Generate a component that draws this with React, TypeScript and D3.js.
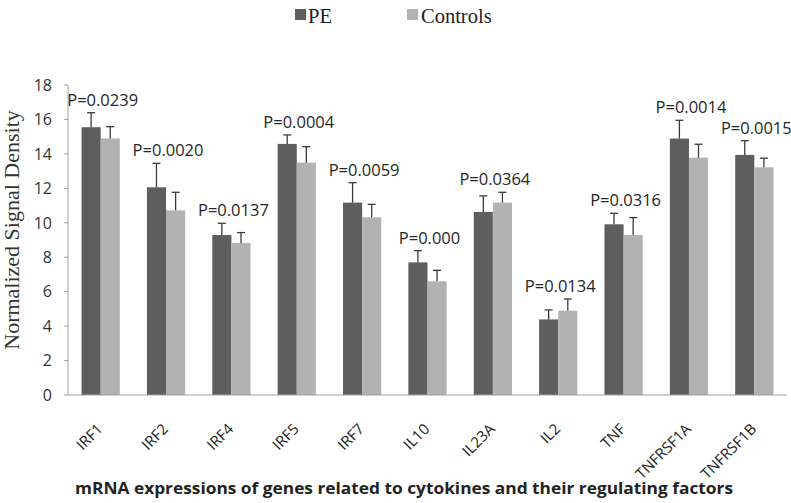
import React from "react";
import * as d3 from "d3";

const categories = ["IRF1", "IRF2", "IRF4", "IRF5", "IRF7", "IL10", "IL23A", "IL2", "TNF", "TNFRSF1A", "TNFRSF1B"];
const seriesNames = ["PE", "Controls"];
const peValues = [15.55, 12.06, 9.29, 14.58, 11.17, 7.7, 10.63, 4.39, 9.91, 14.89, 13.94];
const peErrors = [0.84, 1.39, 0.68, 0.52, 1.16, 0.68, 0.93, 0.55, 0.64, 1.06, 0.83];
const ctrlValues = [14.9, 10.72, 8.83, 13.49, 10.32, 6.6, 11.17, 4.9, 9.29, 13.78, 13.22];
const ctrlErrors = [0.68, 1.05, 0.6, 0.93, 0.75, 0.64, 0.6, 0.67, 1.01, 0.78, 0.53];
const pLabels = ["P=0.0239", "P=0.0020", "P=0.0137", "P=0.0004", "P=0.0059", "P=0.000", "P=0.0364", "P=0.0134", "P=0.0316", "P=0.0014", "P=0.0015"];
const yTicks = [0, 2, 4, 6, 8, 10, 12, 14, 16, 18];
const yTitle = "Normalized Signal Density";
const xTitle = "mRNA expressions of genes related to cytokines and their regulating factors";

const W = 791;
const H = 503;
const colors = ["#5e5e5e", "#b2b2b2"];

export default function App() {
  const left = 68;
  const right = 787;
  const top = 85;
  const bottom = 395;

  const x0 = d3.scaleBand<string>().domain(categories).range([left, right]).paddingInner(0.415).paddingOuter(0.2075);
  const x1 = d3.scaleBand<string>().domain(seriesNames).range([0, x0.bandwidth()]);
  const y = d3.scaleLinear().domain([0, 18]).range([bottom, top]);

  const series = [
    { name: "PE", values: peValues, errs: peErrors },
    { name: "Controls", values: ctrlValues, errs: ctrlErrors },
  ];

  const sans = "'Open Sans', sans-serif";
  const serif = "'Liberation Serif', 'Times New Roman', serif";

  return (
    <svg width={W} height={H} style={{ position: "absolute", left: 0, top: 0, background: "#fff" }}>
      {/* Legend */}
      <g>
        <rect x={295} y={9} width={11} height={11} fill={colors[0]} />
        <text x={308} y={23} fontFamily={serif} fontSize={20.5} fill="#222">PE</text>
        <rect x={407} y={9} width={11} height={11} fill={colors[1]} />
        <text x={421} y={23} fontFamily={serif} fontSize={20.5} fill="#222">Controls</text>
      </g>

      {/* Y axis */}
      <line x1={left} x2={left} y1={y(18)} y2={bottom} stroke="#a0a0a0" strokeWidth={1} />
      {yTicks.map((t) => (
        <g key={t}>
          <line x1={left - 4} x2={left} y1={y(t)} y2={y(t)} stroke="#a0a0a0" strokeWidth={1} />
          <text x={52} y={y(t)} dy="0.36em" textAnchor="end" fontFamily={sans} fontSize={16} fill="#333">{t}</text>
        </g>
      ))}
      <text
        transform={`translate(19, ${(top + bottom) / 2 - 10}) rotate(-90)`}
        textAnchor="middle"
        fontFamily={serif}
        fontSize={22}
        fill="#333"
      >
        {yTitle}
      </text>

      {/* Bars */}
      {series.map((s, si) => (
        <g key={s.name}>
          {categories.map((c, i) => {
            const bx = (x0(c) as number) + (x1(s.name) as number);
            const bw = x1.bandwidth();
            const v = s.values[i];
            return (
              <rect key={c} x={bx} y={y(v)} width={bw} height={bottom - y(v)} fill={colors[si]} />
            );
          })}
        </g>
      ))}

      {/* Error bars */}
      {series.map((s) => (
        <g key={s.name + "err"}>
          {categories.map((c, i) => {
            const cx = (x0(c) as number) + (x1(s.name) as number) + x1.bandwidth() / 2;
            const v = s.values[i];
            const e = s.errs[i];
            return (
              <g key={c} stroke="#3a3a3a" strokeWidth={1.3}>
                <line x1={cx} x2={cx} y1={y(v)} y2={y(v + e)} />
                <line x1={cx - 4} x2={cx + 4} y1={y(v + e)} y2={y(v + e)} />
              </g>
            );
          })}
        </g>
      ))}

      {/* P labels */}
      {categories.map((c, i) => {
        const cx = (x0(c) as number) + x0.bandwidth() / 2;
        const maxTop = Math.max(peValues[i] + peErrors[i], ctrlValues[i] + ctrlErrors[i]);
        return (
          <text key={c} x={cx + 2} y={y(maxTop) - 7} textAnchor="middle" fontFamily={sans} fontSize={16.5} fill="#262626">
            {pLabels[i]}
          </text>
        );
      })}

      {/* X axis */}
      <line x1={left} x2={right} y1={bottom} y2={bottom} stroke="#a0a0a0" strokeWidth={1} />
      {categories.map((c) => {
        const cx = (x0(c) as number) + x0.bandwidth() / 2;
        return (
          <text
            key={c}
            transform={`translate(${cx + 3}, ${bottom + 35}) rotate(-45)`}
            textAnchor="end"
            fontFamily={sans}
            fontSize={15}
            fill="#222"
          >
            {c}
          </text>
        );
      })}
      <text
        x={404}
        y={494}
        textAnchor="middle"
        fontFamily={sans}
        fontWeight="bold"
        fontSize={16}
        textLength={658}
        lengthAdjust="spacingAndGlyphs"
        fill="#222"
      >
        {xTitle}
      </text>
    </svg>
  );
}
